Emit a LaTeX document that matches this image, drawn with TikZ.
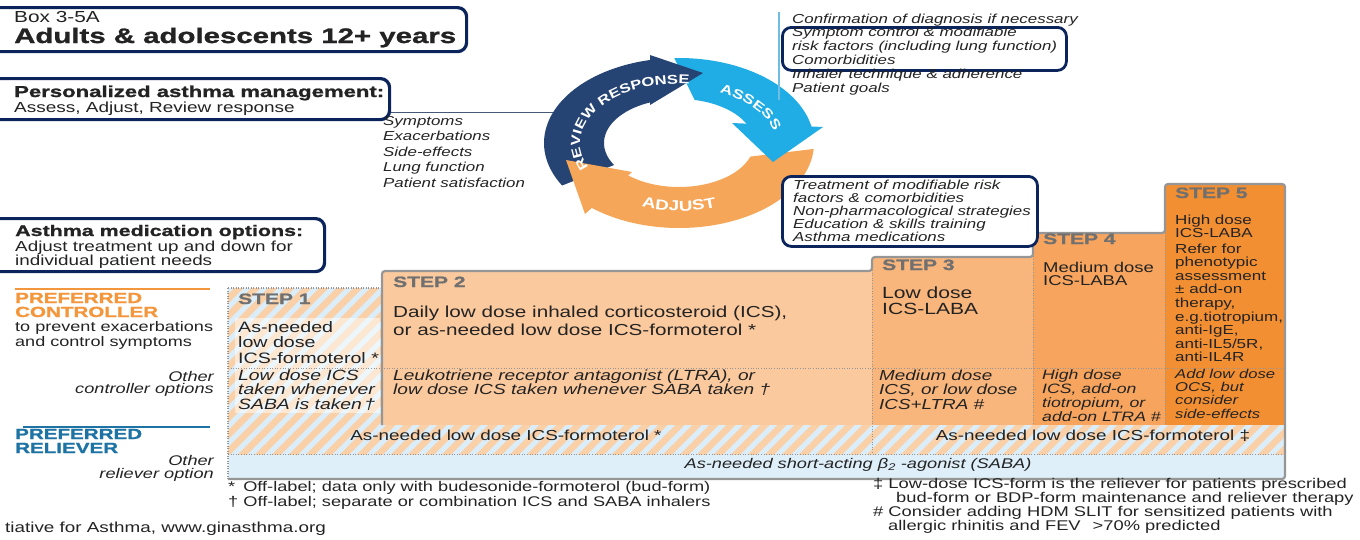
\documentclass[tikz,border=0pt]{standalone}
\usepackage{fontspec}
\setmainfont{Liberation Sans}[FakeStretch=1.3]
\newfontfamily\heavyfont{Liberation Sans}[UprightFont={* Bold}, FakeStretch=1.4, FakeBold=1.2]
\usetikzlibrary{decorations.text}
\newcommand\fsz[2]{\fontsize{#1}{#2}\selectfont}

\definecolor{ink}{RGB}{35,35,35}
\definecolor{navy}{RGB}{12,36,92}
\definecolor{ctrlorange}{RGB}{243,150,60}
\definecolor{relblue}{RGB}{30,115,165}
\definecolor{stepgray}{RGB}{112,112,112}
\definecolor{edgegray}{RGB}{150,150,150}
\definecolor{dotgray}{RGB}{150,150,150}
\definecolor{stepA}{RGB}{251,201,158}
\definecolor{stepB}{RGB}{248,181,124}
\definecolor{stepC}{RGB}{246,164,94}
\definecolor{stepD}{RGB}{242,143,50}
\definecolor{hatchor}{RGB}{250,208,168}
\definecolor{hatchbl}{RGB}{218,237,248}
\definecolor{sabablue}{RGB}{222,239,249}
\definecolor{reviewblue}{RGB}{38,68,115}
\definecolor{assessblue}{RGB}{32,172,228}
\definecolor{adjustorange}{RGB}{245,166,88}
\definecolor{assessline}{RGB}{110,190,228}
\definecolor{linkgray}{RGB}{70,90,120}

\begin{document}
% multi-line text nodes are placed by the baseline of their last line
\begin{tikzpicture}[x=1pt, y=-1pt,
  txt/.style={anchor=base west, align=left, inner sep=0pt, text=ink},
  rtxt/.style={anchor=base east, align=right, inner sep=0pt, text=ink},
  ctxt/.style={anchor=base, align=center, inner sep=0pt, text=ink},
  navybox/.style={draw=navy, line width=3.2pt, rounded corners=9pt, fill=white, inner sep=0pt, anchor=north west},
  steplabel/.style={txt, text=stepgray, font=\heavyfont\fsz{15}{15}},
  dotline/.style={dotgray, line width=0.8pt, dash pattern=on 1pt off 1.6pt},
  dotedge/.style={dotgray, line width=1.8pt, dash pattern=on 1.2pt off 1.3pt},
  stepedge/.style={edgegray, line width=2.2pt, rounded corners=3pt},
  ringtext/.style={decorate, decoration={text along path, text align=center, text color=white}}
]
\useasboundingbox (0,0) rectangle (1360,539);
\clip (0,0) rectangle (1360,539);

% ---------- title boxes ----------
\node[navybox, minimum width=485pt, minimum height=44pt] (hdrbox) at (-20,6) {};
\node[txt, font=\fsz{16}{16}] (boxno) at (14,22) {Box 3-5A};
\node[txt, font=\heavyfont\fsz{21}{21}] (title) at (14,43) {Adults \& adolescents 12+ years};

\node[navybox, minimum width=408pt, minimum height=41pt] (mgmtbox) at (-20,77) {};
\node[txt, font=\heavyfont\fsz{15.8}{15.8}] (mgmthead) at (14,97) {Personalized asthma management:};
\node[txt, font=\fsz{14.6}{14.6}] (mgmtsub) at (14,112) {Assess, Adjust, Review response};

\node[navybox, minimum width=343pt, minimum height=53pt] (medbox) at (-20,217) {};
\node[txt, font=\heavyfont\fsz{15.3}{15.3}] (medhead) at (15,236) {Asthma medication options:};
\node[txt, font=\fsz{14.5}{14.6}] (medsub) at (15,265.6) {Adjust treatment up and down for\\individual patient needs};

% ---------- assess / adjust / review cycle ----------
% bodies
\fill[reviewblue] plot[domain=150:259, samples=60] ({679+135*cos(\x)},{143+85*sin(\x)})
  -- plot[domain=249:150, samples=60] ({679+75*cos(\x)},{143+44*sin(\x)}) -- cycle;
\fill[assessblue] plot[domain=268:350, samples=60] ({679+135*cos(\x)},{143+85*sin(\x)})
  -- plot[domain=335:282, samples=60] ({679+75*cos(\x)},{143+44*sin(\x)}) -- cycle;
\fill[adjustorange] plot[domain=4:131, samples=60] ({679+135*cos(\x)},{143+85*sin(\x)})
  -- plot[domain=134:18, samples=60] ({679+75*cos(\x)},{143+44*sin(\x)}) -- cycle;
% heads
\fill[reviewblue] (650,55) -- (703,73) -- (650,105) -- cycle;
\fill[assessblue] (732,123) -- (773,162) -- (823,127) -- cycle;
\fill[adjustorange] (632,172) -- (566,160) -- (585,214) -- cycle;
% labels on the ring
\path[ringtext, decoration={text={|\fsz{12.8}{12.8}\bfseries|REVIEW RESPONSE}}]
  plot[domain=150:280, samples=90] ({679+99*cos(\x)},{143+59*sin(\x)});
\path[ringtext, decoration={text={|\fsz{13}{13}\bfseries|ASSESS}}]
  plot[domain=292:352, samples=60] ({679+97*cos(\x)},{143+55*sin(\x)});
\path[ringtext, decoration={text={|\fsz{14.5}{14.5}\bfseries|ADJUST}}]
  plot[domain=125:55, samples=60] ({679+108*cos(\x)},{143+68*sin(\x)});

\coordinate (ringW) at (553,112);
\draw[linkgray, line width=1pt] (mgmtbox.east |- ringW) -- (ringW);

\node[txt, font=\fsz{13}{15.5}\itshape] (reviewlist) at (383,187)
  {Symptoms\\Exacerbations\\Side-effects\\Lung function\\Patient satisfaction};

\coordinate (assessTop) at (779,12);
\coordinate (assessBot) at (779,100);
\draw[assessline, line width=1.5pt] (assessTop) -- (assessBot);
\node[draw=navy, line width=2.8pt, rounded corners=9pt, inner sep=0pt, anchor=north west,
  minimum width=284pt, minimum height=43pt] (riskbox) at (781,26) {};
\node[txt, font=\fsz{13}{13.8}\itshape] (assesslist) at (792,92)
  {Confirmation of diagnosis if necessary\\Symptom control \& modifiable\\risk factors (including lung function)\\Comorbidities\\Inhaler technique \& adherence\\Patient goals};

% ---------- step table ----------
\begin{scope}
  \clip (228,288) rectangle (382,455) (228,425) rectangle (1285,455);
  \fill[hatchbl] (200,270) rectangle (1300,470);
  \foreach \i in {0,...,74}
    \draw[hatchor, line width=6.5pt] ({40+17*\i},470) -- ++(190,-190);
\end{scope}
\fill[sabablue] (228,455) rectangle (1285,479);
\fill[stepA] (382,271) rectangle (872,425);
\fill[stepB] (872,257) rectangle (1033,425);
\fill[stepC] (1033,233) rectangle (1165,425);
\fill[stepD] (1165,184) rectangle (1285,425);
\fill[white, opacity=0.5] (235,318) rectangle (380,413);

\draw[dotedge] (228,288) -- (228,479);
\draw[dotedge] (228,288) -- (382,288);
\draw[dotline] (228,368) -- (1285,368);
\draw[dotline] (228,454) -- (1285,454);
\draw[dotline] (872,257) -- (872,454);
\draw[dotline] (1033,233) -- (1033,425);
\draw[dotline] (1165,184) -- (1165,425);
\draw[stepedge] (382,425) |- (872,271) |- (1033,257) |- (1165,233) |- (1285,184) -- (1285,479) -- (228,479);

% box over the top of step 4
\node[navybox, line width=2.8pt, minimum width=255pt, minimum height=70pt] (adjustbox) at (781,175) {};
\node[txt, font=\fsz{13}{13}\itshape] (adjustlist) at (793,241)
  {Treatment of modifiable risk\\factors \& comorbidities\\Non-pharmacological strategies\\Education \& skills training\\Asthma medications};

% row labels
\coordinate (ctrlL) at (15,289);
\coordinate (ctrlR) at (210,289);
\draw[ctrlorange, line width=1.2pt] (ctrlL) -- (ctrlR);
\node[txt, text=ctrlorange, font=\heavyfont\fsz{14.7}{14}] (ctrlhead) at (15,317) {PREFERRED\\CONTROLLER};
\node[txt, font=\fsz{13.9}{15}] (ctrlsub) at (15,346) {to prevent exacerbations\\and control symptoms};
\node[rtxt, font=\fsz{14}{12.6}\itshape] (ctrlother) at (214,393.6) {Other\\controller options};
\coordinate (relL) at (23,427);
\coordinate (relR) at (210,427);
\draw[relblue, line width=1.2pt] (relL) -- (relR);
\node[txt, text=relblue, font=\heavyfont\fsz{14.7}{14}] (relhead) at (15,453) {PREFERRED\\RELIEVER};
\node[rtxt, font=\fsz{14}{13}\itshape] (relother) at (214,478) {Other\\reliever option};

% step contents
\node[steplabel] (s1) at (238,304) {STEP 1};
\node[txt, font=\fsz{15.1}{15.5}] (s1main) at (238,363) {As-needed\\low dose\\ICS-formoterol *};
\node[txt, font=\fsz{14.9}{14.5}\itshape] (s1alt) at (238,409) {Low dose ICS\\taken whenever\\SABA is taken\,†};

\node[steplabel] (s2) at (393,287) {STEP 2};
\node[txt, font=\fsz{15.9}{18}] (s2main) at (393,335) {Daily low dose inhaled corticosteroid (ICS),\\or as-needed low dose ICS-formoterol *};
\node[txt, font=\fsz{14.7}{14}\itshape] (s2alt) at (393,394) {Leukotriene receptor antagonist (LTRA), or\\low dose ICS taken whenever SABA taken †};

\node[steplabel] (s3) at (882,270) {STEP 3};
\node[txt, font=\fsz{16.2}{16}] (s3main) at (882,314) {Low dose\\ICS-LABA};
\node[txt, font=\fsz{14.5}{14.5}\itshape] (s3alt) at (879,409) {Medium dose\\ICS, or low dose\\ICS+LTRA \#};

\node[steplabel] (s4) at (1043,244) {STEP 4};
\node[txt, font=\fsz{14.2}{13.4}] (s4main) at (1043,285.4) {Medium dose\\ICS-LABA};
\node[txt, font=\fsz{13.6}{14}\itshape] (s4alt) at (1042,421) {High dose\\ICS, add-on\\tiotropium, or\\add-on LTRA \#};

\node[steplabel] (s5) at (1175,198) {STEP 5};
\node[txt, font=\fsz{13.1}{13.4}] (s5main) at (1175,237.4) {High dose\\ICS-LABA};
\node[txt, font=\fsz{13.1}{13.6}] (s5refer) at (1175,361.8) {Refer for\\phenotypic\\assessment\\± add-on\\therapy,\\e.g.tiotropium,\\anti-IgE,\\anti-IL5/5R,\\anti-IL4R};
\node[txt, font=\fsz{12.8}{13.4}\itshape] (s5alt) at (1175,418.2) {Add low dose\\OCS, but\\consider\\side-effects};

\node[ctxt, font=\fsz{14.5}{14.5}] (rel1) at (506,440) {As-needed low dose ICS-formoterol *};
\node[ctxt, font=\fsz{14.5}{14.5}] (rel2) at (1093,440) {As-needed low dose ICS-formoterol ‡};
\node[ctxt, font=\fsz{14}{14}\itshape] (saba) at (858,468) {As-needed short-acting β\textsubscript{2} -agonist (SABA)};

% footnotes
\node[txt, font=\fsz{14}{15.5}] (notesL) at (228,506.5)
  {*\hspace{8pt}Off-label; data only with budesonide-formoterol (bud-form)\\† Off-label; separate or combination ICS and SABA inhalers};
\node[txt, font=\fsz{14.1}{14.2}] (notesR) at (873,530.6)
  {‡ Low-dose ICS-form is the reliever for patients prescribed\\\hspace*{23pt}bud-form or BDP-form maintenance and reliever therapy\\\# Consider adding HDM SLIT for sensitized patients with\\\hspace*{15pt}allergic rhinitis and FEV\hspace{12pt}>70\% predicted};
\node[txt, font=\fsz{14.5}{14.5}] (source) at (5,532) {tiative for Asthma, www.ginasthma.org};
\end{tikzpicture}
\end{document}
